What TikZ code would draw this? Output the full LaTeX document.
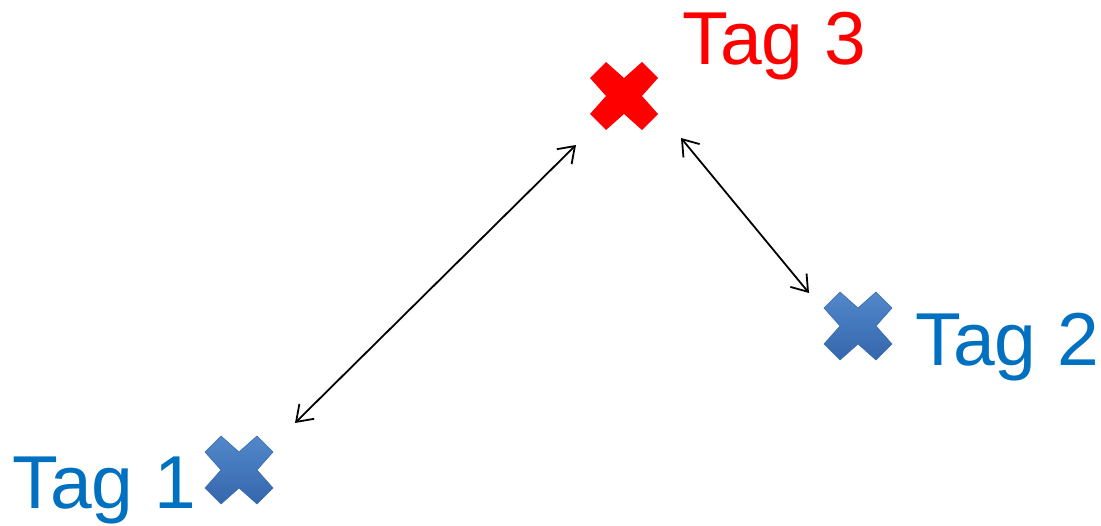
\documentclass[tikz,border=0pt]{standalone}
\usepackage{fontspec}
\setmainfont{Liberation Sans}
\usetikzlibrary{arrows.meta}
\definecolor{tagblue}{HTML}{0070C0}
\definecolor{xtop}{HTML}{5288CA}
\definecolor{xbot}{HTML}{3566AD}
\definecolor{xedge}{HTML}{3A6BB0}
\tikzset{
  xmark/.style={minimum size=70pt, inner sep=0pt, path picture={
    \begin{scope}[shift={(path picture bounding box.center)}]
      \path[#1] (-34,-18) -- (-18,-34) -- (0,-18) -- (18,-34) -- (34,-18) -- (18,0)
        -- (34,18) -- (18,34) -- (0,18) -- (-18,34) -- (-34,18) -- (-18,0) -- cycle;
    \end{scope}}},
  redx/.style={xmark={fill=red}},
  bluex/.style={xmark={top color=xtop, bottom color=xbot, draw=xedge, line width=0.6pt}},
  taglabel/.style={anchor=base west, inner sep=0pt, font=\fontsize{75}{84}\selectfont},
  conn/.style={{Straight Barb[length=15pt,width=21pt]}-{Straight Barb[length=15pt,width=21pt]}, line width=1.8pt, black}
}
\begin{document}
\begin{tikzpicture}[x=1pt,y=-1pt]
  \useasboundingbox[fill=white] (0,0) rectangle (1101,526);
  % crosses
  \node[redx]  (x3) at (624,96) {};
  \node[bluex] (x2) at (858,326) {};
  \node[bluex] (x1) at (239,470) {};
  % labels
  \node[taglabel, text=red]     (l3) at (682.5,65)  {Tag 3};
  \node[taglabel, text=tagblue] (l2) at (915.5,366) {Tag 2};
  \node[taglabel, text=tagblue] (l1) at (12.5,508)  {Tag 1};
  % connector ends
  \coordinate (a1s) at (295,423);
  \coordinate (a1e) at (576,145);
  \coordinate (a2s) at (681,138);
  \coordinate (a2e) at (809,293);
  \draw[conn] (a1s) -- (a1e);
  \draw[conn] (a2s) -- (a2e);
\end{tikzpicture}
\end{document}
